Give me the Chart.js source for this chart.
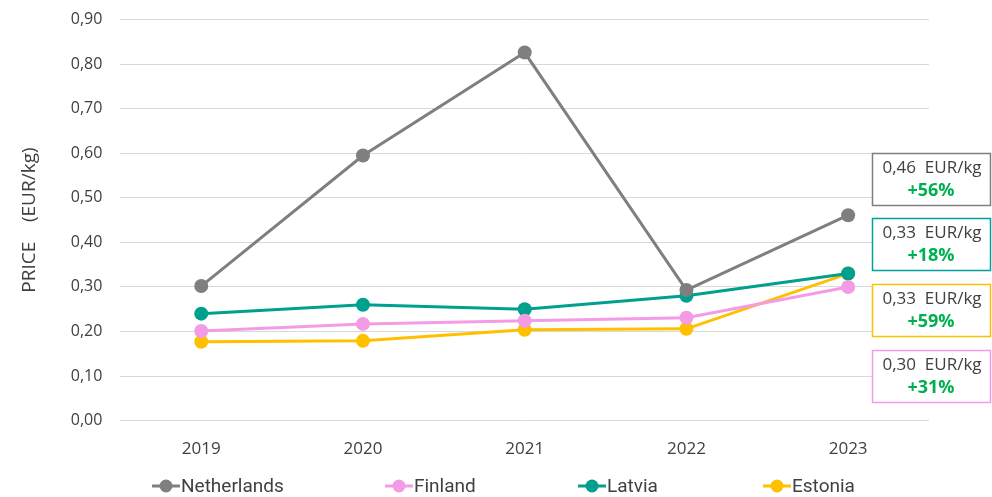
<!DOCTYPE html>
<html>
<head>
<meta charset="utf-8">
<script src="https://cdn.jsdelivr.net/npm/chart.js@4"></script>
<style>
  html, body { margin: 0; padding: 0; background: #fff; overflow: hidden; }
  #wrap { width: 992px; height: 497px; overflow: hidden; position: relative; }
  #chart { position: absolute; left: 0; top: -8px; }
</style>
</head>
<body>
<div id="wrap"><canvas id="chart" width="992" height="505"></canvas></div>
<script>
const years = ["2019", "2020", "2021", "2022", "2023"];
const netherlands = [0.302, 0.595, 0.826, 0.293, 0.461];
const finland = [0.201, 0.217, 0.224, 0.231, 0.300];
const latvia = [0.240, 0.260, 0.250, 0.280, 0.330];
const estonia = [0.177, 0.179, 0.204, 0.206, 0.330];

// boxes on the right, top to bottom
const boxPrices = ["0,46", "0,33", "0,33", "0,30"];
const boxChanges = ["+56%", "+18%", "+59%", "+31%"];
const boxColors = ["#7f7f7f", "#00a19a", "#ffc000", "#f49be6"];

const GREY = "#7f7f7f", PINK = "#f49be6", TEAL = "#00a08e", YELLOW = "#ffc000";
const FONT = "'Open Sans', 'DejaVu Sans', sans-serif";
const LEGEND_FONT = "Roboto, 'Open Sans', sans-serif";
const SHIFT = 8; // canvas sits 8px above the page top

function series(label, data, color) {
  return {
    label: label,
    data: data,
    borderColor: color,
    backgroundColor: color,
    borderWidth: 3,
    pointRadius: 7,
    pointHoverRadius: 7,
    pointBorderWidth: 0,
    pointBackgroundColor: color,
    tension: 0,
    fill: false
  };
}

const boxPlugin = {
  id: "boxes",
  afterDraw(chart) {
    const ctx = chart.ctx;
    const x = 872, w = 118, h = 52;
    const tops = [153, 218, 284, 350];
    ctx.save();
    for (let i = 0; i < boxPrices.length; i++) {
      const y = tops[i] + SHIFT;
      ctx.fillStyle = "#fff";
      ctx.fillRect(x, y, w, h);
      ctx.strokeStyle = boxColors[i];
      ctx.lineWidth = 1.5;
      ctx.strokeRect(x + 0.5, y + 0.5, w, h);
      ctx.textAlign = "center";
      ctx.textBaseline = "middle";
      ctx.fillStyle = "#404040";
      ctx.font = "17px " + FONT;
      ctx.fillText(boxPrices[i] + "  EUR/kg", x + w / 2 + 1, y + 15);
      ctx.fillStyle = "#00b050";
      ctx.font = "bold 18px " + FONT;
      ctx.fillText(boxChanges[i], x + w / 2, y + 38);
    }
    ctx.restore();
  }
};

// legend: line + dot then name
const legendPlugin = {
  id: "lineLegend",
  afterDraw(chart) {
    const ctx = chart.ctx;
    const starts = [152, 385, 578, 763];
    const y = 486 + SHIFT;
    ctx.save();
    ctx.font = "19px " + LEGEND_FONT;
    chart.data.datasets.forEach((ds, i) => {
      const x = starts[i];
      ctx.strokeStyle = ds.borderColor;
      ctx.fillStyle = ds.borderColor;
      ctx.lineWidth = 3;
      ctx.beginPath(); ctx.moveTo(x, y); ctx.lineTo(x + 28, y); ctx.stroke();
      ctx.beginPath(); ctx.arc(x + 14, y, 6.5, 0, Math.PI * 2); ctx.fill();
      ctx.fillStyle = "#404040";
      ctx.textAlign = "left";
      ctx.textBaseline = "middle";
      ctx.fillText(ds.label, x + 29, y + 1);
    });
    ctx.restore();
  }
};

const chart = new Chart(document.getElementById("chart").getContext("2d"), {
  type: "line",
  data: {
    labels: years,
    datasets: [
      series("Netherlands", netherlands, GREY),
      series("Finland", finland, PINK),
      series("Latvia", latvia, TEAL),
      series("Estonia", estonia, YELLOW)
    ]
  },
  options: {
    responsive: false,
    animation: false,
    layout: { padding: { left: 14, right: 63, top: 0, bottom: 28 } },
    plugins: {
      tooltip: { enabled: false },
      legend: { display: false }
    },
    scales: {
      x: {
        offset: true,
        grid: { display: false },
        border: { display: false },
        ticks: { color: "#404040", font: { family: FONT, size: 17 }, padding: 10 }
      },
      y: {
        min: 0,
        max: 0.9,
        grid: { color: "#d9d9d9", lineWidth: 1, tickLength: 0 },
        border: { display: false },
        ticks: {
          stepSize: 0.1,
          color: "#404040",
          padding: 18,
          font: { family: FONT, size: 16 },
          callback: v => v.toFixed(2).replace(".", ",")
        },
        title: {
          display: true,
          text: "PRICE    (EUR/kg)",
          color: "#404040",
          font: { family: FONT, size: 19 },
          padding: { bottom: 12 }
        }
      }
    }
  },
  plugins: [boxPlugin, legendPlugin]
});
</script>
</body>
</html>
